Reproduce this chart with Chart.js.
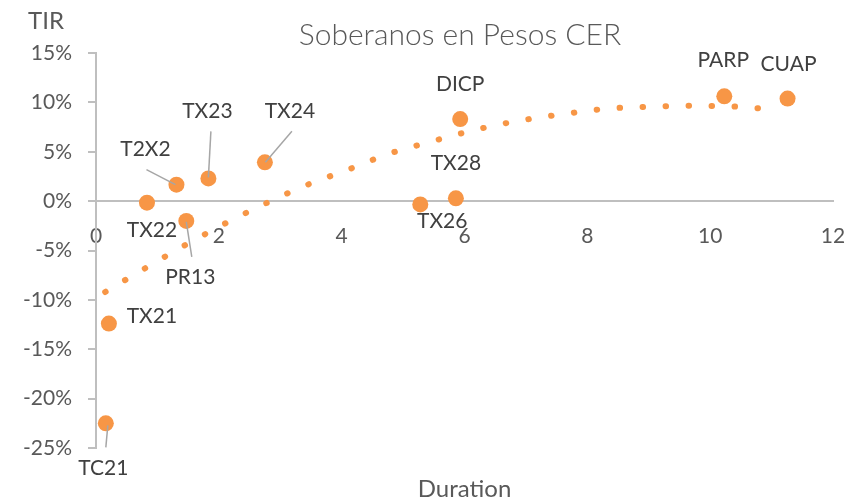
<!DOCTYPE html>
<html>
<head>
<meta charset="utf-8">
<script src="https://cdn.jsdelivr.net/npm/chart.js@4/dist/chart.umd.min.js"></script>
<style>
  html, body { margin: 0; padding: 0; background: #ffffff; }
  #wrap { width: 847px; height: 501px; position: relative; }
</style>
</head>
<body>
<div id="wrap"><canvas id="c" width="847" height="501"></canvas></div>
<script>
// ---- Data ----
const bonds      = ['TC21', 'TX21', 'TX22', 'PR13', 'T2X2', 'TX23', 'TX24', 'TX26', 'TX28', 'DICP', 'PARP', 'CUAP'];
const duration   = [0.16, 0.21, 0.83, 1.47, 1.31, 1.83, 2.75, 5.28, 5.86, 5.93, 10.23, 11.26];
const tir        = [-22.5, -12.4, -0.16, -2.0, 1.67, 2.3, 3.93, -0.33, 0.28, 8.31, 10.61, 10.38];
// dotted trend line
const trendX     = [0.15, 0.8, 1.44, 2.09, 2.74, 3.42, 4.11, 4.77, 5.5, 6.2, 6.9, 7.6, 8.3, 9.0, 9.7, 10.3, 10.8, 11.1];
const trendY     = [-9.2, -6.8, -4.5, -2.3, -0.3, 1.6, 3.2, 4.8, 6.1, 7.25, 8.15, 8.8, 9.35, 9.55, 9.65, 9.6, 9.4, 9.2];
const xTicks     = [0, 2, 4, 6, 8, 10, 12];
const yTicks     = [-25, -20, -15, -10, -5, 0, 5, 10, 15];
const titleText  = 'Soberanos en Pesos CER';
const xAxisTitle = 'Duration';
const yAxisTitle = 'TIR';

// ---- Label placement (style only): pixel offsets of label centre from point, optional leader line ----
const labelStyle = {
  TC21: { dx: -2.5, dy: 45,  leader: [[0, 24], [2, 2]] },
  TX21: { dx: 43,   dy: -7 },
  TX22: { dx: 5,    dy: 28 },
  PR13: { dx: 4,    dy: 56,  leader: [[5.5, 36], [0, 1]] },
  T2X2: { dx: -31,  dy: -35, leader: [[-30, -15], [-1, 0]] },
  TX23: { dx: -1,   dy: -67, leader: [[2.5, -47], [0, -1]] },
  TX24: { dx: 25,   dy: -51, leader: [[27, -31], [0.5, 0]] },
  TX26: { dx: 22,   dy: 17 },
  TX28: { dx: 0,    dy: -35 },
  DICP: { dx: 0,    dy: -35 },
  PARP: { dx: -1,   dy: -36 },
  CUAP: { dx: 1,    dy: -34 }
};

const ORANGE = '#F79646';
const AXIS = '#BFBFBF';
const TICK_TXT = '#595959';
const LBL_TXT = '#404040';
const FONT = 'Lato, "Open Sans", sans-serif';

const points = duration.map((d, i) => ({ x: d, y: tir[i], name: bonds[i] }));
const trend = trendX.map((x, i) => ({ x: x, y: trendY[i] }));

const decorPlugin = {
  id: 'decor',
  afterDatasetsDraw(chart) {
    const ctx = chart.ctx;
    const xs = chart.scales.x, ys = chart.scales.y;
    ctx.save();
    // leader lines
    ctx.strokeStyle = '#A6A6A6';
    ctx.lineWidth = 1.5;
    points.forEach(p => {
      const st = labelStyle[p.name];
      if (!st || !st.leader) return;
      const px = xs.getPixelForValue(p.x), py = ys.getPixelForValue(p.y);
      ctx.beginPath();
      ctx.moveTo(px + st.leader[0][0], py + st.leader[0][1]);
      ctx.lineTo(px + st.leader[1][0], py + st.leader[1][1]);
      ctx.stroke();
    });
    // data labels
    ctx.fillStyle = LBL_TXT;
    ctx.font = '21px ' + FONT;
    ctx.textAlign = 'center';
    ctx.textBaseline = 'middle';
    points.forEach(p => {
      const st = labelStyle[p.name] || { dx: 0, dy: -30 };
      const px = xs.getPixelForValue(p.x), py = ys.getPixelForValue(p.y);
      ctx.fillText(p.name, px + st.dx, py + st.dy);
    });
    // title
    const ca = chart.chartArea;
    ctx.fillStyle = TICK_TXT;
    ctx.font = '300 30px ' + FONT;
    ctx.fillText(titleText, 460, 35);
    // axis titles
    ctx.font = '24px ' + FONT;
    ctx.fillText(yAxisTitle, 46, 21);
    ctx.fillText(xAxisTitle, (ca.left + ca.right) / 2, 489);
    ctx.restore();
  }
};

new Chart(document.getElementById('c'), {
  type: 'scatter',
  data: {
    datasets: [
      {
        label: 'Bonos',
        data: points,
        pointRadius: 8,
        pointHoverRadius: 8,
        pointBackgroundColor: ORANGE,
        pointBorderWidth: 0,
        backgroundColor: ORANGE,
        borderColor: ORANGE,
        order: 1
      },
      {
        type: 'line',
        label: 'Tendencia',
        data: trend,
        showLine: true,
        pointRadius: 0,
        borderColor: ORANGE,
        borderWidth: 6,
        borderDash: [0.5, 22.5],
        borderCapStyle: 'round',
        cubicInterpolationMode: 'monotone',
        fill: false,
        order: 2
      }
    ]
  },
  plugins: [decorPlugin],
  options: {
    responsive: false,
    animation: false,
    events: [],
    layout: { padding: { top: 53, bottom: 53, left: 0, right: 14 } },
    plugins: { legend: { display: false }, tooltip: { enabled: false }, title: { display: false } },
    scales: {
      x: {
        type: 'linear',
        position: { y: 0 },
        min: 0, max: 12,
        afterBuildTicks: s => { s.ticks = xTicks.map(v => ({ value: v })); },
        afterFit: s => { s.paddingLeft = 0; s.paddingRight = 0; },
        ticks: { color: TICK_TXT, font: { family: FONT, size: 21 }, padding: 23, maxRotation: 0 },
        grid: { display: true, drawOnChartArea: false, drawTicks: false, color: AXIS },
        border: { display: true, color: AXIS, width: 2 }
      },
      y: {
        type: 'linear',
        min: -25, max: 15,
        afterBuildTicks: s => { s.ticks = yTicks.map(v => ({ value: v })); },
        afterFit: s => { s.width = 96; s.paddingTop = 0; s.paddingBottom = 0; },
        ticks: { color: TICK_TXT, font: { family: FONT, size: 21 }, padding: 16, callback: v => v + '%' },
        grid: { display: true, drawOnChartArea: false, drawTicks: true, tickLength: 8, color: AXIS, lineWidth: 2 },
        border: { display: true, color: AXIS, width: 2 }
      }
    }
  }
});
</script>
</body>
</html>
